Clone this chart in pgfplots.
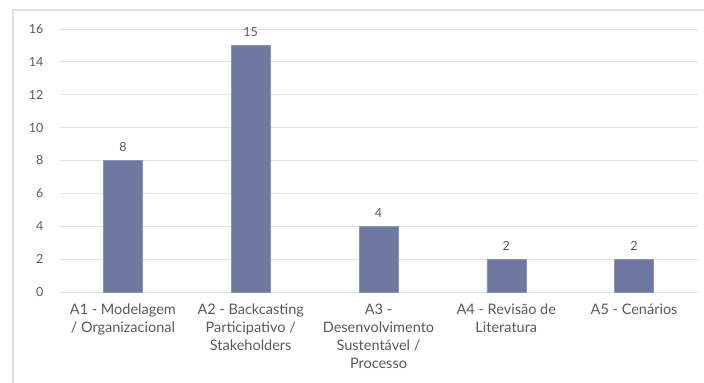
\documentclass[border=0pt]{standalone}
\usepackage{pgfplots}
\pgfplotsset{compat=1.18}
\usepackage{fontspec}
\setmainfont{Lato}
\definecolor{barc}{RGB}{110,120,160}
\definecolor{txt}{RGB}{89,89,89}
\definecolor{gridc}{RGB}{225,225,225}
\begin{document}
\begin{tikzpicture}
\useasboundingbox (0,0) rectangle (704bp,383bp);
\draw[line width=1.5bp, gray!25] (13bp,-2bp) -- (13bp,373bp) -- (706bp,373bp);
\begin{axis}[
  at={(59bp,91bp)}, anchor=south west,
  scale only axis, width=639bp, height=263bp,
  xmin=-0.5, xmax=4.5, ymin=0, ymax=16,
  ytick={0,2,...,16},
  xtick={0,1,2,3,4},
  xticklabels={{A1 - Modelagem\\/ Organizacional},{A2 - Backcasting\\Participativo /\\Stakeholders},{A3 -\\Desenvolvimento\\Sustentável /\\Processo},{A4 - Revisão de\\Literatura},{A5 - Cenários}},
  xticklabel style={align=center, font=\fontsize{14.5bp}{18bp}\selectfont, text=txt, yshift=-4bp},
  yticklabel style={font=\fontsize{12.5bp}{14bp}\selectfont, text=txt, xshift=-12bp},
  /pgf/number format/assume math mode=true,
  axis line style={draw=none},
  tick style={draw=none},
  ymajorgrids, grid style={gridc, line width=0.8bp},
  ybar, bar width=39bp,
  nodes near coords,
  nodes near coords style={font=\fontsize{12.5bp}{14bp}\selectfont, text=txt, yshift=5bp},
  clip=false,
]
\addplot[fill=barc, draw=barc!80] coordinates {(0,8) (1,15) (2,4) (3,2) (4,2)};
\end{axis}
\end{tikzpicture}
\end{document}
